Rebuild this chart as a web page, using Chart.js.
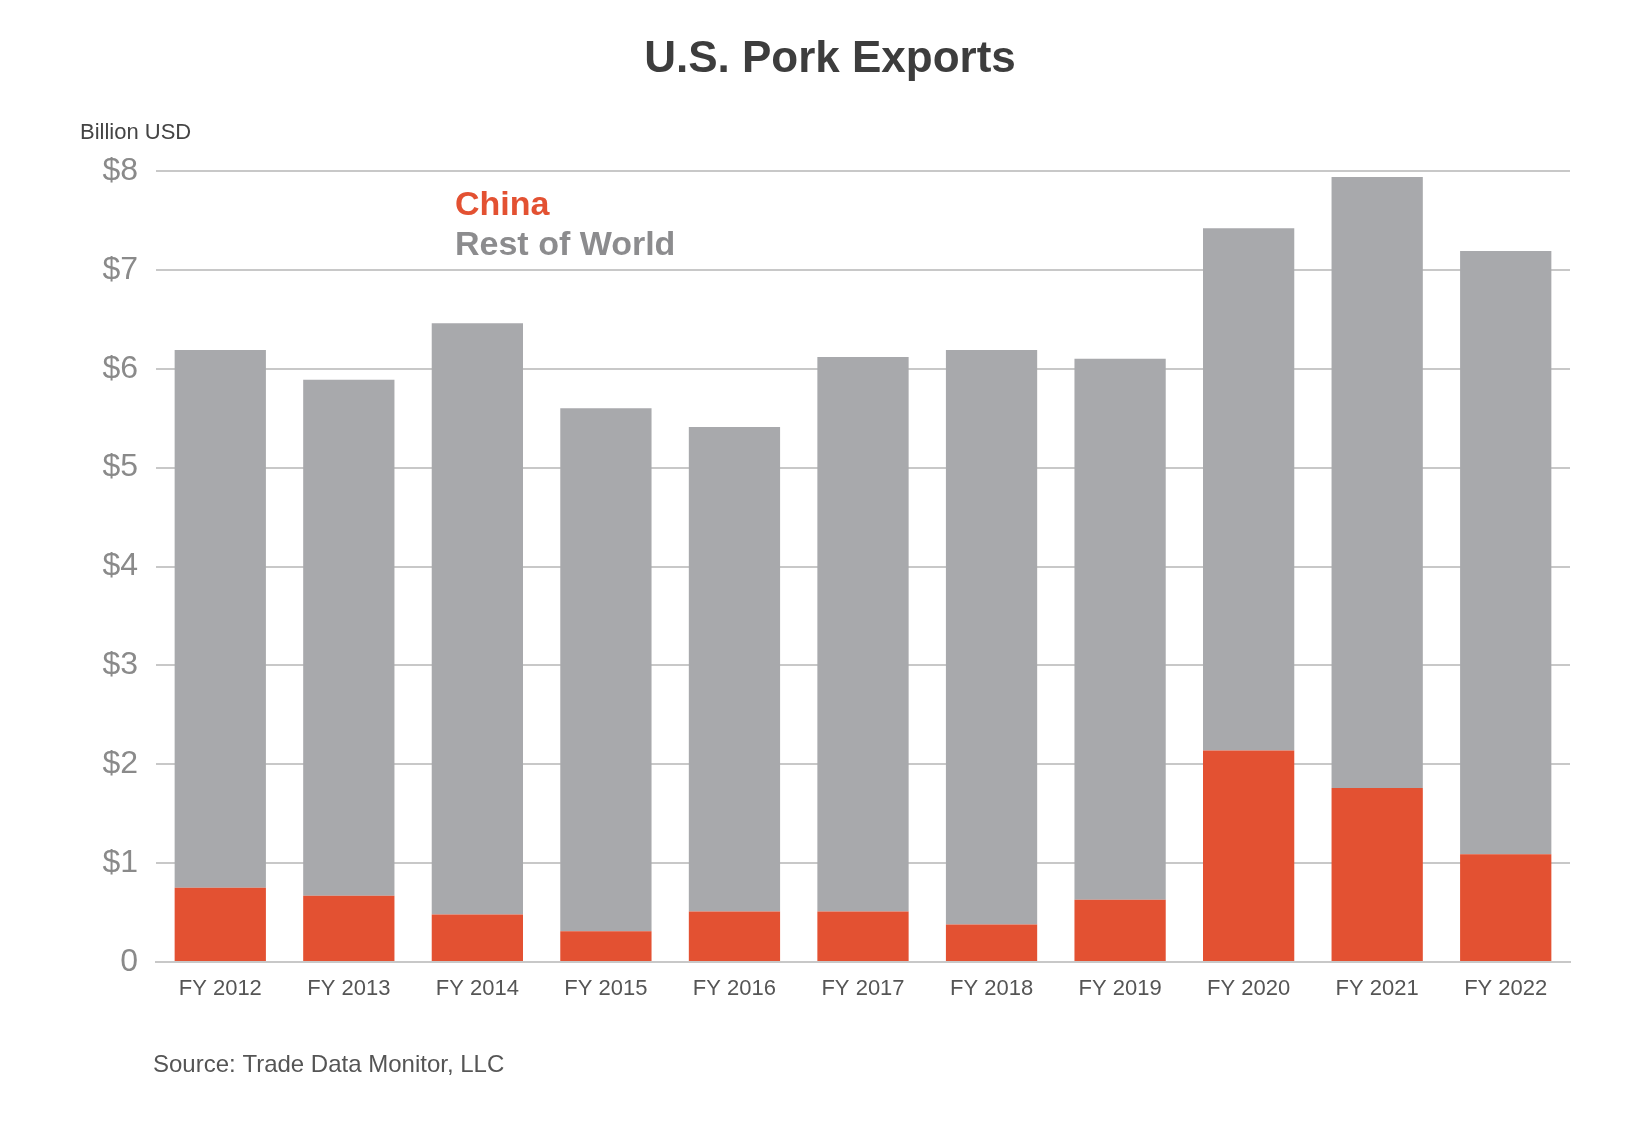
<!DOCTYPE html>
<html>
<head>
<meta charset="utf-8">
<script src="https://cdn.jsdelivr.net/npm/chart.js@4/dist/chart.umd.min.js"></script>
<style>
  body { margin: 0; background: #fff; }
  #wrap { width: 1651px; height: 1129px; position: relative; }
</style>
</head>
<body>
<div id="wrap"><canvas id="myChart" width="1651" height="1129"></canvas></div>
<script>
// values, billion USD
const years = ['FY 2012', 'FY 2013', 'FY 2014', 'FY 2015', 'FY 2016', 'FY 2017', 'FY 2018', 'FY 2019', 'FY 2020', 'FY 2021', 'FY 2022'];
const china = [0.75, 0.67, 0.48, 0.31, 0.51, 0.51, 0.38, 0.63, 2.14, 1.76, 1.09];
const totals = [6.19, 5.89, 6.46, 5.60, 5.41, 6.12, 6.19, 6.10, 7.42, 7.94, 7.19];
const restOfWorld = totals.map((t, i) => +(t - china[i]).toFixed(2));

const FONT = '"Liberation Sans", Arial, Helvetica, sans-serif';

// extra texts: title, unit, legend, source
const textPlugin = {
  id: 'texts',
  afterDraw(chart) {
    const c = chart.ctx;
    c.save();
    c.textBaseline = 'middle';
    c.fillStyle = '#3d3d3d';
    c.font = 'bold 44px ' + FONT;
    c.textAlign = 'center';
    c.fillText('U.S. Pork Exports', 830, 60);
    c.textAlign = 'left';
    c.font = '22px ' + FONT;
    c.fillStyle = '#444';
    c.fillText('Billion USD', 80, 133);
    c.font = 'bold 34px ' + FONT;
    c.fillStyle = '#e35132';
    c.fillText('China', 455, 206);
    c.fillStyle = '#8c8c8e';
    c.fillText('Rest of World', 455, 246);
    c.font = '24px ' + FONT;
    c.fillStyle = '#555';
    c.fillText('Source: Trade Data Monitor, LLC', 153, 1065);
    c.restore();
  }
};

const ctx = document.getElementById('myChart').getContext('2d');
new Chart(ctx, {
  type: 'bar',
  data: {
    labels: years,
    datasets: [
      { label: 'China', data: china, backgroundColor: '#e35132' },
      { label: 'Rest of World', data: restOfWorld, backgroundColor: '#a8a9ac' }
    ]
  },
  options: {
    responsive: false,
    animation: false,
    layout: { padding: { top: 171, right: 81, bottom: 127, left: 0 } },
    datasets: { bar: { categoryPercentage: 1, barPercentage: 0.71 } },
    plugins: { legend: { display: false }, title: { display: false }, tooltip: { enabled: false } },
    scales: {
      x: {
        stacked: true,
        grid: { display: false },
        border: { color: '#c8c8c8', width: 2 },
        ticks: { color: '#555', font: { family: FONT, size: 22 }, padding: 6 },
        afterFit(s) { s.height = 40; }
      },
      y: {
        stacked: true,
        min: 0,
        max: 8,
        grid: { color: '#c8c8c8', lineWidth: 2, drawTicks: false },
        border: { display: false },
        ticks: {
          stepSize: 1,
          color: '#8a8a8a',
          padding: 18,
          font: { family: FONT, size: 32 },
          callback: v => v === 0 ? '0' : '$' + v
        },
        afterFit(s) { s.width = 156; }
      }
    }
  },
  plugins: [textPlugin]
});
</script>
</body>
</html>
